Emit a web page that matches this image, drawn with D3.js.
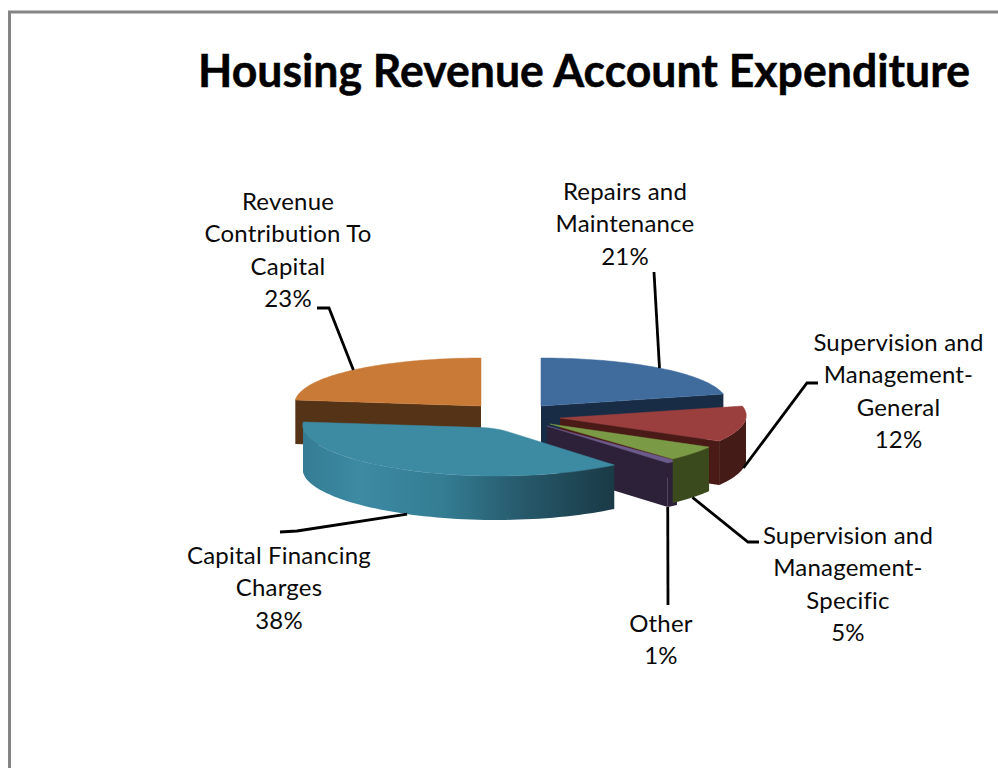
<!DOCTYPE html>
<html><head><meta charset="utf-8">
<script src="https://cdn.jsdelivr.net/npm/d3@7"></script>
<style>html,body{margin:0;background:#fff}svg{display:block}text{font-family:Lato,"Open Sans",sans-serif;fill:#0a0a0a;font-variant-ligatures:none}</style>
</head><body><svg id="c" width="998" height="768"></svg>
<script>
const title = "Housing Revenue Account Expenditure";
const categories = ["Repairs and Maintenance","Supervision and Management- General","Supervision and Management- Specific","Other","Capital Financing Charges","Revenue Contribution To Capital"];
const values = [21,12,5,1,38,23];
const percentLabels = ["21%","12%","5%","1%","38%","23%"];
const labelLines = [["Repairs and","Maintenance"],["Supervision and","Management-","General"],["Supervision and","Management-","Specific"],["Other"],["Capital Financing","Charges"],["Revenue","Contribution To","Capital"]];
const topColors = ["#3f6b9d","#9b3f3e","#7b9a45","#6b5a8c","#3d8aa3","#c97a37"];
const wallColors = ["#182d45","#451b18","#3a4a1c","#2c2138","#1a3a46","#553316"];
const faceColors = ["#182d45","#4a1a17","#3a4a1c","#2c2138","#1a3a46","#553316"];
// exploded apex of each slice on the page, and its projected radius (nearer slices look larger)
const apexes = [[541,406],[560,418],[550,424],[547,426],[496,428],[481,406]];
const radii = [186,186,186,197,193,186];
const roundApex = [0,0,0,0,14,0];
const labelBoxes = [[625,200],[898.5,351],[848,544],[661,632],[279,564],[288,210]];
const paintOrder = [5,0,1,3,2,4];
const hiddenEndFace = [false,false,true,false,false,false];
const ry=48, depth=44, persp=0.05;

const svg=d3.select("#c");
const defs=svg.append("defs");
const g=defs.append("linearGradient").attr("id","tealWall").attr("gradientUnits","userSpaceOnUse").attr("x1",303).attr("x2",613).attr("y1",0).attr("y2",0);
[[0,"#347c94"],[0.18,"#3d8aa3"],[0.45,"#347d93"],[0.7,"#275a6c"],[1,"#1a3a46"]].forEach(s=>g.append("stop").attr("offset",s[0]).attr("stop-color",s[1]));

svg.append("path").attr("d","M998,12H9.5V768").attr("fill","none").attr("stroke","#858585").attr("stroke-width",3);
svg.append("text").attr("x",584).attr("y",87).attr("text-anchor","middle").attr("font-size",46).attr("font-weight",700).style("fill","#000").style("stroke","#000").style("stroke-width",0.5).attr("textLength",772).attr("lengthAdjust","spacingAndGlyphs").text(title);

const pie=d3.pie().sort(null).value(d=>d);
const arcs=pie(values);
const pt=(i,t,dz=0)=>{const a=apexes[i],f=1+persp*Math.cos(t);return [a[0]+radii[i]*Math.sin(t)*f, a[1]-ry*Math.cos(t)+dz];};
const line=d3.line();
const sample=(i,t0,t1,dz)=>d3.range(0,61).map(k=>pt(i,t0+(t1-t0)*k/60,dz));
const toward=(a,b,d)=>{const L=Math.hypot(b[0]-a[0],b[1]-a[1]);return [a[0]+(b[0]-a[0])*d/L,a[1]+(b[1]-a[1])*d/L];};

const layer=svg.append("g");
paintOrder.forEach(i=>{
  const {startAngle:s,endAngle:e}=arcs[i], base=apexes[i];
  // a radial cut face shows only if it turns towards the viewer
  const faces=[];
  if(Math.sin(s)<-0.01) faces.push(s);
  if(Math.sin(e)>0.01 && !hiddenEndFace[i]) faces.push(e);
  faces.forEach(t=>{
    const p=pt(i,t);
    layer.append("path").attr("d",line([base,p,[p[0],p[1]+depth],[base[0],base[1]+depth]])+"Z").attr("fill",faceColors[i]);
  });
  const ws=Math.max(s,Math.PI/2), we=Math.min(e,3*Math.PI/2);
  if(we>ws){
    const wallPts=[...sample(i,ws,we,0),...sample(i,we,ws,depth)];
    layer.append("path").attr("d",line(wallPts)+"Z").attr("fill",i===4?"url(#tealWall)":wallColors[i]);
  }
  const rim=sample(i,s,e,0);
  let apexPts=[base];
  if(roundApex[i]>0){
    const a0=toward(base,rim[rim.length-1],roundApex[i]), a1=toward(base,rim[0],roundApex[i]);
    apexPts=d3.range(0,9).map(k=>{const u=k/8,v=1-u;return [v*v*a0[0]+2*u*v*base[0]+u*u*a1[0], v*v*a0[1]+2*u*v*base[1]+u*u*a1[1]];});
  }
  layer.append("path").attr("d",line([...apexPts,...rim])+"Z").attr("fill",topColors[i]).attr("stroke",topColors[i]).attr("stroke-width",0.5).attr("stroke-linejoin","round");
});

// leader lines: anchored on each slice's rim; the sliver "Other" leaves from its outer corner
const leaderEnds=[[[654,272]],[[807,383],[818,383]],[[748,542],[759,542]],[[668,605]],[[297,531],[280,532]],[[329,308],[317,308]]];
const anchorOnTop=[true,false,false,false,false,true];
const anchorFraction=[0.5,0.5,0.5,1,0.5,0.5];
const leaders=svg.append("g");
arcs.forEach((d,i)=>{
  const m=d.startAngle+(d.endAngle-d.startAngle)*anchorFraction[i], p=pt(i,m,anchorOnTop[i]?0:depth);
  leaders.append("path").attr("d",line([p,...leaderEnds[i]])).attr("fill","none").attr("stroke","#000").attr("stroke-width",2.8);
});

const labels=svg.append("g").attr("font-size",24).attr("letter-spacing",0.2);
categories.forEach((c,i)=>{
  const [x,y]=labelBoxes[i];
  const t=labels.append("text").attr("text-anchor","middle");
  [...labelLines[i],percentLabels[i]].forEach((s,k)=>t.append("tspan").attr("x",x).attr("y",y+k*32.3).text(s));
});
</script></body></html>
